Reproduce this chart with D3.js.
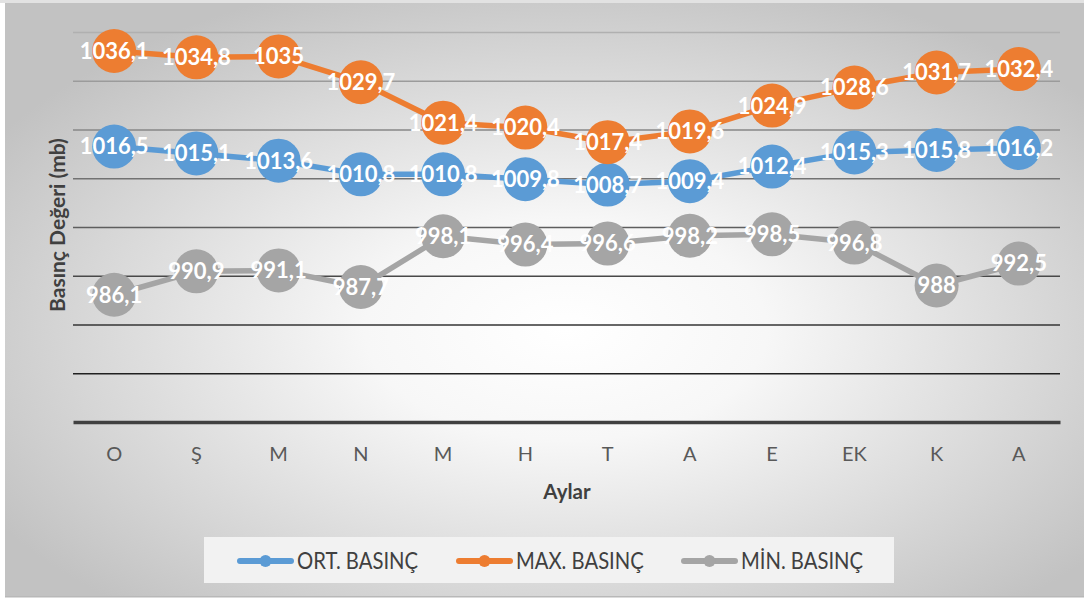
<!DOCTYPE html>
<html>
<head>
<meta charset="utf-8">
<script src="https://cdn.jsdelivr.net/npm/d3@7"></script>
<style>
  html, body { margin: 0; padding: 0; background: #ffffff; }
  svg { display: block; }
</style>
</head>
<body>
<svg id="chart" width="1084" height="601"></svg>
<script>
// Monthly pressure readings (mb)
const months = ["O", "Ş", "M", "N", "M", "H", "T", "A", "E", "EK", "K", "A"];
const ortBasinc = [1016.5, 1015.1, 1013.6, 1010.8, 1010.8, 1009.8, 1008.7, 1009.4, 1012.4, 1015.3, 1015.8, 1016.2];
const maxBasinc = [1036.1, 1034.8, 1035, 1029.7, 1021.4, 1020.4, 1017.4, 1019.6, 1024.9, 1028.6, 1031.7, 1032.4];
const minBasinc = [986.1, 990.9, 991.1, 987.7, 998.1, 996.4, 996.6, 998.2, 998.5, 996.8, 988, 992.5];
const seriesNames = ["ORT. BASINÇ", "MAX. BASINÇ", "MİN. BASINÇ"];
const yTicks = [960, 970, 980, 990, 1000, 1010, 1020, 1030, 1040];

const colors = ["#5b9bd5", "#ed7d31", "#a5a5a5"];
const series = [ortBasinc, maxBasinc, minBasinc].map((vals, i) => ({
  name: seriesNames[i],
  color: colors[i],
  values: vals.map((v, j) => ({ key: j, month: months[j], value: v }))
}));

const svg = d3.select("#chart");
const W = 1084, H = 601;
const FONT = "Lato, sans-serif";

// Background: radial gradient panel
const defs = svg.append("defs");
const rg = defs.append("radialGradient")
  .attr("id", "bg")
  .attr("cx", "52%").attr("cy", "55%").attr("r", "62%")
  .attr("gradientUnits", "objectBoundingBox");
rg.append("stop").attr("offset", "0%").attr("stop-color", "#ffffff");
rg.append("stop").attr("offset", "30%").attr("stop-color", "#f7f7f7");
rg.append("stop").attr("offset", "100%").attr("stop-color", "#c2c2c2");

svg.append("rect").attr("x", 0).attr("y", 0).attr("width", W).attr("height", H).attr("fill", "#ffffff");
svg.append("rect").attr("x", 0).attr("y", 0).attr("width", W).attr("height", 3).attr("fill", "#e2e2e2");
svg.append("rect")
  .attr("x", 5).attr("y", 3).attr("width", W - 5).attr("height", 594)
  .attr("fill", "url(#bg)");
svg.append("rect").attr("x", 5).attr("y", 596).attr("width", W - 5).attr("height", 1.5).attr("fill", "#b8b8b8");

// Plot area
const plot = { left: 73, right: 1060, top: 32, bottom: 422 };

const x = d3.scaleBand()
  .domain(d3.range(months.length))
  .range([plot.left, plot.right])
  .padding(0);

const y = d3.scaleLinear()
  .domain([960, 1040])
  .range([plot.bottom, plot.top]);

const cx = i => x(i) + x.bandwidth() / 2;

// Gridlines: lighter towards top, darker towards bottom
const gridColor = d3.scaleLinear().domain([1040, 970]).range(["#b0b0b0", "#202020"]);
const yAxis = d3.axisLeft(y).tickValues(yTicks.filter(t => t > 960))
  .tickSize(-(plot.right - plot.left)).tickFormat("");
const gGrid = svg.append("g")
  .attr("transform", `translate(${plot.left},0)`)
  .call(yAxis);
gGrid.select(".domain").remove();
gGrid.selectAll(".tick line")
  .attr("stroke", d => gridColor(d))
  .attr("stroke-width", 1.5);

// Category axis
const xAxis = d3.axisBottom(x).tickSize(0).tickFormat(i => months[i]);
const gX = svg.append("g")
  .attr("transform", `translate(0,${plot.bottom})`)
  .call(xAxis);
gX.select(".domain").attr("stroke", "#404040").attr("stroke-width", 3.5);
gX.selectAll(".tick text")
  .attr("dy", 0)
  .attr("y", 38.5)
  .attr("fill", "#595959")
  .style("font-family", FONT)
  .style("font-size", "20px");

// Axis titles
svg.append("text")
  .attr("x", 567).attr("y", 499)
  .attr("text-anchor", "middle")
  .attr("fill", "#404040")
  .style("font-family", FONT)
  .style("font-weight", "bold")
  .style("font-size", "20.5px")
  .text("Aylar");

svg.append("text")
  .attr("transform", "translate(64.5,225) rotate(-90)")
  .attr("text-anchor", "middle")
  .attr("fill", "#404040")
  .style("font-family", FONT)
  .style("font-weight", "bold")
  .style("font-size", "21px")
  .text("Basınç Değeri (mb)");

// Lines and markers
const line = d3.line().x(d => cx(d.key)).y(d => y(d.value));
const fmt = v => String(v).replace(".", ",");

const gS = svg.append("g").selectAll("g").data(series).join("g");
gS.append("path")
  .attr("d", d => line(d.values))
  .attr("fill", "none")
  .attr("stroke", d => d.color)
  .attr("stroke-width", 5.5)
  .attr("stroke-linejoin", "round");
gS.selectAll("circle").data(d => d.values.map(v => ({ ...v, color: d.color }))).join("circle")
  .attr("cx", d => cx(d.key))
  .attr("cy", d => y(d.value))
  .attr("r", 22)
  .attr("fill", d => d.color);
gS.selectAll("text").data(d => d.values).join("text")
  .attr("x", d => cx(d.key))
  .attr("y", d => y(d.value))
  .attr("dy", "0.36em")
  .attr("text-anchor", "middle")
  .attr("fill", "#ffffff")
  .style("font-family", FONT)
  .style("font-weight", "bold")
  .style("font-size", "22px")
  .text(d => fmt(d.value));

// Legend
svg.append("rect")
  .attr("x", 204).attr("y", 537).attr("width", 690).attr("height", 46)
  .attr("fill", "#f2f2f2");
const legendX = [238, 457, 682];
const gL = svg.append("g").selectAll("g").data(series).join("g")
  .attr("transform", (d, i) => `translate(${legendX[i]},561)`);
gL.append("line")
  .attr("x1", 2).attr("x2", 53).attr("y1", 0).attr("y2", 0)
  .attr("stroke", d => d.color).attr("stroke-width", 6)
  .attr("stroke-linecap", "round");
gL.append("circle").attr("cx", 27.5).attr("cy", 0).attr("r", 6).attr("fill", d => d.color);
gL.append("text")
  .attr("transform", "translate(59,0) scale(0.88,1)")
  .attr("dy", "0.36em")
  .attr("fill", "#404040")
  .style("font-family", FONT)
  .style("font-size", "23px")
  .text(d => d.name);
</script>
</body>
</html>
